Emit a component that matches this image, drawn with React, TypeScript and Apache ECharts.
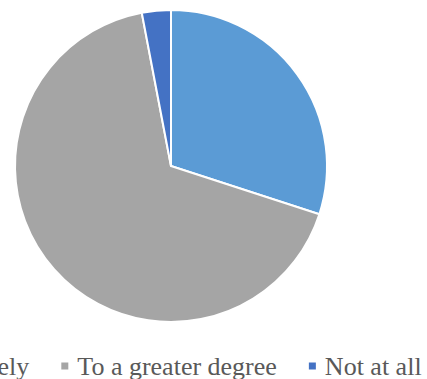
import React, { useEffect, useRef } from "react";
import * as echarts from "echarts";

const categories = ["Completely", "To a greater degree", "Not at all"];
const values = [30, 67, 3];
const colors = ["#5B9BD5", "#A5A5A5", "#4472C4"];

export default function App() {
  const ref = useRef<HTMLDivElement>(null);
  useEffect(() => {
    if (!ref.current) return;
    const chart = echarts.init(ref.current, undefined, { renderer: "svg" });
    chart.setOption({
      animation: false,
      legend: {
        data: categories,
        left: -115,
        top: 348,
        width: 800,
        itemWidth: 9,
        itemHeight: 9,
        itemGap: 30,
        icon: "rect",
        textStyle: {
          fontFamily: "'Liberation Serif', 'Times New Roman', serif",
          fontSize: 26,
          color: "#595959",
          padding: [0, 0, 0, 3],
        },
      },
      series: [
        {
          type: "pie",
          center: [171, 166],
          radius: 156,
          startAngle: 90,
          clockwise: true,
          label: { show: false },
          labelLine: { show: false },
          emphasis: { disabled: true },
          itemStyle: { borderColor: "#ffffff", borderWidth: 2 },
          data: categories.map((name, i) => ({
            name,
            value: values[i],
            itemStyle: { color: colors[i] },
          })),
        },
      ],
    });
    return () => chart.dispose();
  }, []);
  return <div ref={ref} style={{ width: 427, height: 379, position: "absolute", left: 0, top: 0 }} />;
}
